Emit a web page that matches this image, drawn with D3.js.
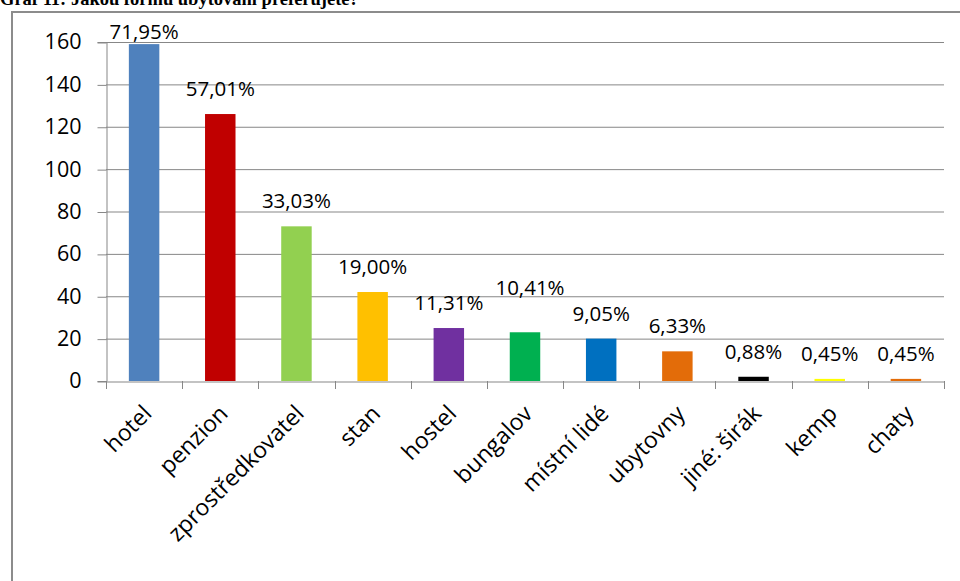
<!DOCTYPE html>
<html>
<head>
<meta charset="utf-8">
<script src="https://cdn.jsdelivr.net/npm/d3@7"></script>
<style>
  html, body { margin: 0; padding: 0; background: #fff; }
  svg { display: block; }
</style>
</head>
<body>
<svg id="chart" width="960" height="581"></svg>
<script>
const title = "Graf 11: Jakou formu ubytování preferujete?";
const categories = ["hotel", "penzion", "zprostředkovatel", "stan", "hostel", "bungalov", "místní lidé", "ubytovny", "jiné: širák", "kemp", "chaty"];
const values = [159, 126, 73, 42, 25, 23, 20, 14, 2, 1, 1];
const percentLabels = ["71,95%", "57,01%", "33,03%", "19,00%", "11,31%", "10,41%", "9,05%", "6,33%", "0,88%", "0,45%", "0,45%"];
const colors = ["#4f81bd", "#c00000", "#92d050", "#ffc000", "#7030a0", "#00b050", "#0070c0", "#e36c09", "#000000", "#ffff00", "#e36c09"];
const yTicks = [0, 20, 40, 60, 80, 100, 120, 140, 160];

const svg = d3.select("#chart");
const font = "'Open Sans', 'Liberation Sans', sans-serif";

// outer chart frame
svg.append("rect")
  .attr("x", 12).attr("y", 12).attr("width", 1000).attr("height", 700)
  .attr("fill", "#fff").attr("stroke", "#8c8c8c").attr("stroke-width", 2);

// title (cut by top edge, as in the source)
svg.append("text")
  .attr("x", 0).attr("y", 5)
  .attr("font-family", "'Liberation Serif', 'Times New Roman', serif")
  .attr("font-weight", "bold").attr("font-size", 18.5)
  .attr("fill", "#000")
  .text(title);

const plotL = 106, plotR = 944, plotT = 42, plotB = 381;

const x = d3.scaleBand().domain(categories).range([plotL, plotR]).paddingInner(0.6).paddingOuter(0.3);
const xb = d3.scaleBand().domain(categories).range([plotL, plotR]);
const y = d3.scaleLinear().domain([0, 160]).range([plotB, plotT]);

// gridlines
svg.append("g").selectAll("line").data(yTicks.filter(d => d > 0)).join("line")
  .attr("x1", plotL).attr("x2", plotR)
  .attr("y1", d => y(d) + 0.5).attr("y2", d => y(d) + 0.5)
  .attr("stroke", "#878787").attr("stroke-width", 1);

// y axis
const yAxis = svg.append("g").attr("transform", `translate(${plotL + 0.5},0)`)
  .call(d3.axisLeft(y).tickValues(yTicks).tickSize(9).tickPadding(16).tickFormat(d3.format("d")));
yAxis.select(".domain").attr("stroke", "#878787");
yAxis.selectAll(".tick line").attr("stroke", "#878787").attr("transform", "translate(0,0.5)");
yAxis.selectAll("text").attr("font-family", font).attr("font-size", 21.5).attr("fill", "#000");

// bars
svg.append("g").selectAll("rect").data(values).join("rect")
  .attr("x", (d, i) => x(categories[i]))
  .attr("width", x.bandwidth())
  .attr("y", d => y(d))
  .attr("height", d => y(0) - y(d))
  .attr("fill", (d, i) => colors[i]);

// x axis line
const xAxis = svg.append("g").attr("transform", `translate(0,${plotB + 0.5})`)
  .call(d3.axisBottom(xb).tickSize(0).tickFormat(""));
xAxis.select(".domain").attr("stroke", "#878787");
xAxis.selectAll(".tick").remove();
// category separator ticks
svg.append("g").selectAll("line").data(d3.range(categories.length + 1)).join("line")
  .attr("x1", i => Math.round(plotL + i * xb.step()) + 0.5)
  .attr("x2", i => Math.round(plotL + i * xb.step()) + 0.5)
  .attr("y1", plotB).attr("y2", plotB + 8)
  .attr("stroke", "#878787");

// category labels
svg.append("g").selectAll("text").data(categories).join("text")
  .attr("transform", d => `translate(${xb(d) + xb.bandwidth() / 2 + 9},${plotB + 34}) rotate(-45)`)
  .attr("text-anchor", "end")
  .attr("font-family", font).attr("font-size", 23).attr("fill", "#000")
  .text(d => d);

// value labels, nudged upward when they would collide with the previous one
const labels = svg.append("g").selectAll("text").data(values).join("text")
  .attr("x", (d, i) => xb(categories[i]) + xb.bandwidth() / 2)
  .attr("y", d => Math.max(y(d) - 18, 39))
  .attr("text-anchor", "middle")
  .attr("font-family", font).attr("font-size", 20.5).attr("fill", "#000")
  .text((d, i) => percentLabels[i]);

let prev = null;
labels.each(function () {
  const b = this.getBBox();
  if (prev && b.x < prev.x + prev.width + 10 && Math.abs(b.y - prev.y) < b.height * 0.6) {
    const nx = +this.getAttribute("x") + 5;
    const ny = +this.getAttribute("y") - (b.y - prev.y) - 15;
    d3.select(this).attr("x", nx).attr("y", ny);
  }
  prev = this.getBBox();
});
</script>
</body>
</html>
